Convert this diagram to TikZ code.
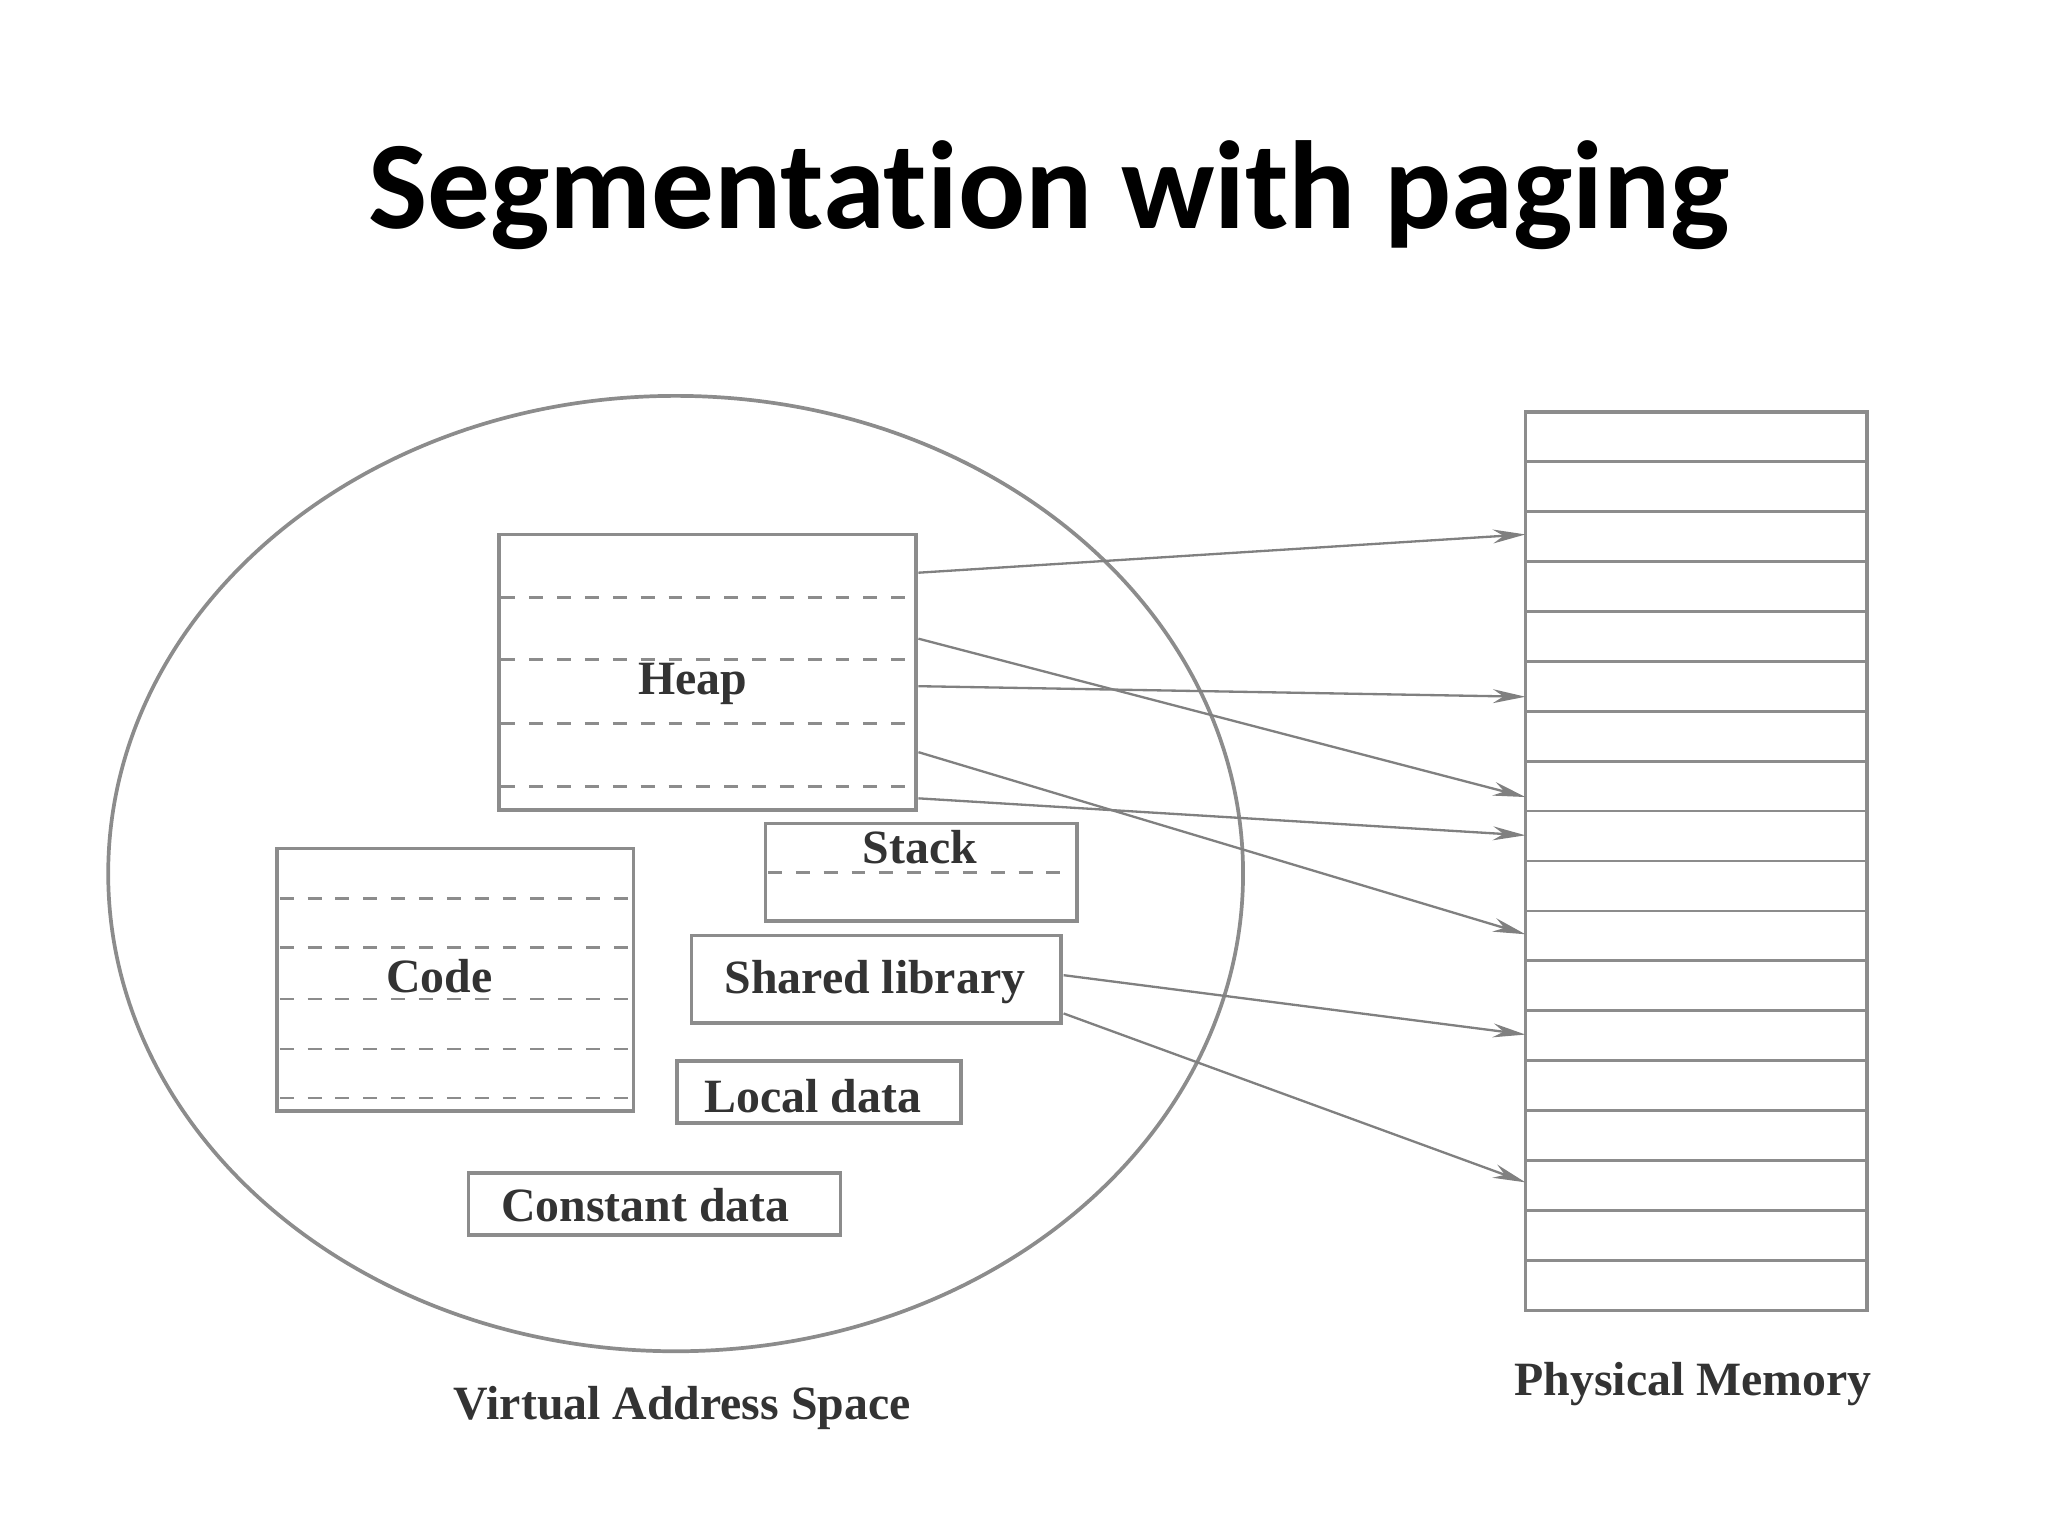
\documentclass[tikz,border=0pt]{standalone}
\usepackage{fontspec}
\setmainfont{Liberation Serif}
\newfontfamily\titlefont{Carlito}[Ligatures={NoCommon}]
\usetikzlibrary{arrows.meta}
\begin{document}
\begin{tikzpicture}[x=0.01cm,y=-0.01cm,
  box/.style={draw=black!45,line width=0.8pt},
  dl/.style={draw=black!45,dashed,line width=0.6pt},
  lab/.style={font=\bfseries\fontsize{10.3pt}{12pt}\selectfont,text=black!80},
  arr/.style={draw=black!50,line width=0.5pt,-{Stealth[length=7pt,width=3pt]}}]
\useasboundingbox (0,0) rectangle (1552,1164);
\node[font=\titlefont\bfseries\fontsize{27pt}{32pt}\selectfont] (title) at (795,148) {Segmentation with paging};
\draw[black!45,line width=0.8pt] (512,662) ellipse [x radius=430, y radius=362];
% Heap
\draw[box] (378,405) rectangle (694,614);
\foreach \y in {453,500,548,596} \draw[dl] (380,\y) -- (692,\y);
\node[lab] (heap) at (525,518) {Heap};
% Stack
\draw[box] (580,624) rectangle (816,698);
\draw[dl] (582,661) -- (814,661);
\node[lab] (stack) at (697,642) {Stack};
% Code
\draw[box] (210,643) rectangle (480,842);
\foreach \y in {681,718,757,795,832} \draw[dl] (212,\y) -- (478,\y);
\node[lab] (code) at (333,740) {Code};
% others
\draw[box] (524,709) rectangle (804,775);
\node[lab] (shared) at (663,744) {Shared library};
\draw[box] (513,804) rectangle (728,851);
\node[lab] (local) at (616,831) {Local data};
\draw[box] (355,889) rectangle (637,936);
\node[lab] (const) at (489,913) {Constant data};
% Physical memory
\draw[box] (1156,312) rectangle (1415,993);
\foreach \i in {1,...,17} \draw[black!45,line width=0.6pt] (1156,312+37.83*\i) -- (1415,312+37.83*\i);
\node[lab] (vas) at (517,1067) {Virtual Address Space};
\node[lab] (pm) at (1283,1049) {Physical Memory};
% connector endpoints
\coordinate (h1) at (696,434); \coordinate (p1) at (1156,405);
\coordinate (h2) at (696,520); \coordinate (p2) at (1156,528);
\coordinate (h3) at (696,484); \coordinate (p3) at (1156,604);
\coordinate (h4) at (696,605); \coordinate (p4) at (1156,633);
\coordinate (h5) at (696,570); \coordinate (p5) at (1156,708);
\coordinate (s1) at (806,739); \coordinate (p6) at (1156,784);
\coordinate (s2) at (806,768); \coordinate (p7) at (1156,896);
\draw[arr] (h1) -- (p1);
\draw[arr] (h2) -- (p2);
\draw[arr] (h3) -- (p3);
\draw[arr] (h4) -- (p4);
\draw[arr] (h5) -- (p5);
\draw[arr] (s1) -- (p6);
\draw[arr] (s2) -- (p7);
\end{tikzpicture}
\end{document}
